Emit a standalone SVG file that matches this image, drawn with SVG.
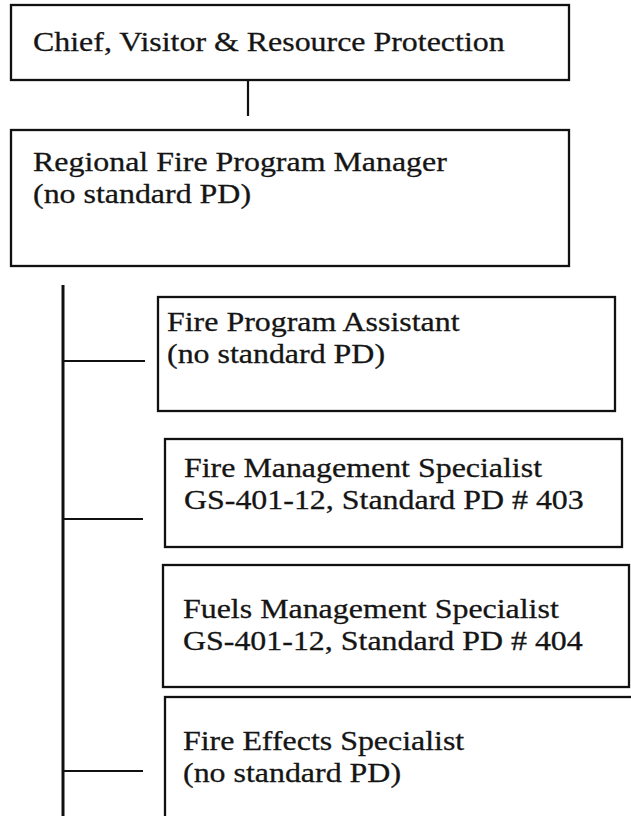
<svg xmlns="http://www.w3.org/2000/svg" width="631" height="816" viewBox="0 0 631 816">
  <style>
    .box { fill: #ffffff; stroke: #111111; stroke-width: 2.3; }
    .wire { fill: none; stroke: #111111; stroke-width: 2.2; }
    .trunk { fill: none; stroke: #111111; stroke-width: 3; }
    .lbl { font-family: "Liberation Serif", "Times New Roman", serif; font-size: 28px; fill: #151515; stroke: #151515; stroke-width: 0.3; }
  </style>
  <rect x="0" y="0" width="631" height="816" fill="#ffffff"/>

  <!-- connectors -->
  <g id="connectors">
    <line class="wire" x1="248" y1="80" x2="248" y2="116"/>
    <line class="trunk" x1="63" y1="285" x2="63" y2="816"/>
    <line class="wire" x1="63" y1="361" x2="145" y2="361"/>
    <line class="wire" x1="63" y1="519" x2="143" y2="519"/>
    <line class="wire" x1="63" y1="771" x2="143" y2="771"/>
  </g>

  <!-- top position -->
  <g id="chief">
    <rect class="box" x="11" y="5" width="558" height="75"/>
    <text class="lbl" transform="translate(33 51) scale(1.14 1)">Chief, Visitor &amp; Resource Protection</text>
  </g>

  <g id="regional-manager">
    <rect class="box" x="11" y="130" width="558" height="136"/>
    <text class="lbl" transform="translate(33 171) scale(1.14 1)">Regional Fire Program Manager</text>
    <text class="lbl" transform="translate(33 203) scale(1.14 1)">(no standard PD)</text>
  </g>

  <g id="program-assistant">
    <rect class="box" x="158" y="297" width="457" height="114"/>
    <text class="lbl" transform="translate(167 331) scale(1.14 1)">Fire Program Assistant</text>
    <text class="lbl" transform="translate(167 363) scale(1.14 1)">(no standard PD)</text>
  </g>

  <g id="fire-management-specialist">
    <rect class="box" x="165" y="439" width="457" height="108"/>
    <text class="lbl" transform="translate(184 477) scale(1.14 1)">Fire Management Specialist</text>
    <text class="lbl" transform="translate(184 509) scale(1.14 1)">GS-401-12, Standard PD # 403</text>
  </g>

  <g id="fuels-management-specialist">
    <rect class="box" x="163" y="565" width="466" height="122"/>
    <text class="lbl" transform="translate(183 618) scale(1.14 1)">Fuels Management Specialist</text>
    <text class="lbl" transform="translate(183 650) scale(1.14 1)">GS-401-12, Standard PD # 404</text>
  </g>

  <g id="fire-effects-specialist">
    <rect class="box" x="165" y="697" width="480" height="140"/>
    <text class="lbl" transform="translate(183 750) scale(1.14 1)">Fire Effects Specialist</text>
    <text class="lbl" transform="translate(183 782) scale(1.14 1)">(no standard PD)</text>
  </g>
</svg>
